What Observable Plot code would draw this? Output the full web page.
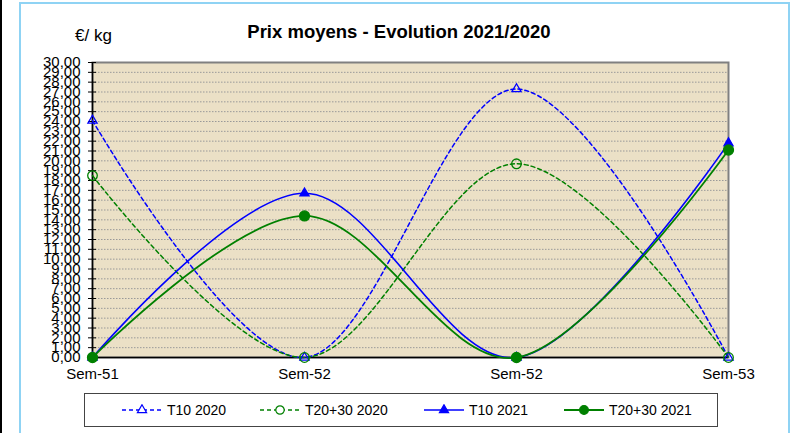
<!DOCTYPE html>
<html>
<head>
<meta charset="utf-8">
<script src="https://cdn.jsdelivr.net/npm/d3@7"></script>
<script src="https://cdn.jsdelivr.net/npm/@observablehq/plot@0.6"></script>
<style>
  html, body { margin: 0; padding: 0; background: #fff; }
  body { font-family: "Liberation Sans", Arial, sans-serif; }
  #page { position: relative; width: 798px; height: 433px; overflow: hidden; background: #fff; }
  #leftbar { position: absolute; left: 0; top: 0; width: 2px; height: 433px; background: #000; }
  #border { position: absolute; left: 19px; top: 2px; width: 767px; height: 460px; border: 2px solid #8fd3f4; }
  #title { position: absolute; left: 0; width: 798px; top: 21px; text-align: center; font-weight: bold; font-size: 18.5px; color: #000; }
  #unit { position: absolute; left: 75px; top: 26px; font-size: 17px; color: #000; }
  #chart { position: absolute; left: 0; top: 50px; }
  #legend { position: absolute; left: 84px; top: 393px; width: 632px; height: 32px; border: 1px solid #444; background: #fff; }
  .item { position: absolute; top: 0; height: 32px; display: flex; align-items: center; font-size: 14px; color: #000; }
  .item svg { margin-right: 4px; }
</style>
</head>
<body>
<div id="page">
  <div id="leftbar"></div>
  <div id="border"></div>
  <div id="title">Prix moyens - Evolution 2021/2020</div>
  <div id="unit">€/ kg</div>
  <div id="chart"></div>
  <div id="legend"></div>
</div>
<script>
// ---- Data ----
const weeks = ["Sem-51", "Sem-52", "Sem-52", "Sem-53"];
const seriesNames = ["T10 2020", "T20+30 2020", "T10 2021", "T20+30 2021"];
const t10_2020 = [24.1, 0, 27.3, 0];
const t2030_2020 = [18.5, 0, 19.7, 0];
const t10_2021 = [0, 16.7, 0, 21.8];
const t2030_2021 = [0, 14.4, 0, 21.1];
const yTicks = d3.range(0, 31);

// ---- Styles ----
const styles = {
  "T10 2020":    {color: "#0000ff", dash: "4,3", symbol: "triangle", fill: "none", r: 3.4, width: 1.5},
  "T20+30 2020": {color: "#008000", dash: "4,3", symbol: "circle", fill: "none", r: 4.8, width: 1.5},
  "T10 2021":    {color: "#0000ff", dash: null, symbol: "triangle", fill: "#0000ff", r: 3.4, width: 1.6},
  "T20+30 2021": {color: "#008000", dash: null, symbol: "circle", fill: "#008000", r: 5, width: 1.8}
};

const values = [t10_2020, t2030_2020, t10_2021, t2030_2021];
const series = seriesNames.map((name, k) => ({
  name,
  rows: values[k].map((v, i) => ({i, week: weeks[i], value: v, series: name}))
}));

const fmt = d => d.toFixed(2).replace(".", ",");

const marks = [
  Plot.frame({fill: "#ebe0c6", stroke: null}),
  Plot.gridY(yTicks.filter(d => d > 0 && d < 30), {stroke: "#999999", strokeOpacity: 1, strokeDasharray: "1.5,1.5", strokeWidth: 1}),
  Plot.frame({stroke: "#808080", strokeWidth: 2}),
  Plot.ruleY([0], {stroke: "#000", strokeWidth: 1.5}),
  Plot.ruleX([0], {stroke: "#000", strokeWidth: 1.5}),
  Plot.axisY(yTicks, {tickSize: 8, dx: 4, text: null, stroke: "#000", label: null}),
  Plot.axisY(yTicks, {tickSize: 0, tickPadding: 12, tickFormat: fmt, fontSize: 15, fill: "#000", label: null}),
  Plot.axisX([0, 1, 2, 3], {tickSize: 0, tickPadding: 11, tickFormat: i => weeks[i], fontSize: 15, fill: "#000", label: null})
];

for (const s of series) {
  const st = styles[s.name];
  marks.push(Plot.line(s.rows, {x: "i", y: "value", stroke: st.color, strokeWidth: st.width, strokeDasharray: st.dash, curve: "cardinal"}));
}
for (const s of series) {
  const st = styles[s.name];
  marks.push(Plot.dot(s.rows, {x: "i", y: "value", symbol: st.symbol, r: st.r, stroke: st.color, strokeWidth: 1.3, fill: st.fill === "none" ? "none" : st.fill}));
}

const chart = Plot.plot({
  width: 798,
  height: 340,
  marginLeft: 92,
  marginRight: 70,
  marginTop: 12,
  marginBottom: 33,
  style: {fontFamily: "'Liberation Sans', Arial, sans-serif", fontSize: "15px", color: "#000", background: "transparent"},
  x: {type: "linear", domain: [0, 3], axis: null, label: null},
  y: {domain: [0, 30], axis: null, label: null},
  marks
});
document.getElementById("chart").appendChild(chart);

// ---- Legend ----
const legend = document.getElementById("legend");
const offsets = [36, 174, 338, 478];
seriesNames.forEach((name, k) => {
  const st = styles[name];
  const item = document.createElement("div");
  item.className = "item";
  item.style.left = offsets[k] + "px";
  const sym = st.symbol === "triangle"
    ? d3.symbol(d3.symbolTriangle, Math.PI * st.r * st.r)()
    : d3.symbol(d3.symbolCircle, Math.PI * (st.r - 0.6) * (st.r - 0.6))();
  item.innerHTML = `<svg width="42" height="12" viewBox="-21 -6 42 12">
      <line x1="-20" x2="20" y1="0" y2="0" stroke="${st.color}" stroke-width="${st.width}" ${st.dash ? `stroke-dasharray="${st.dash}"` : ""}/>
      <path d="${sym}" fill="${st.fill === "none" ? "#fff" : st.fill}" stroke="${st.color}" stroke-width="1.2"/>
    </svg><span>${name}</span>`;
  legend.appendChild(item);
});
</script>
</body>
</html>
